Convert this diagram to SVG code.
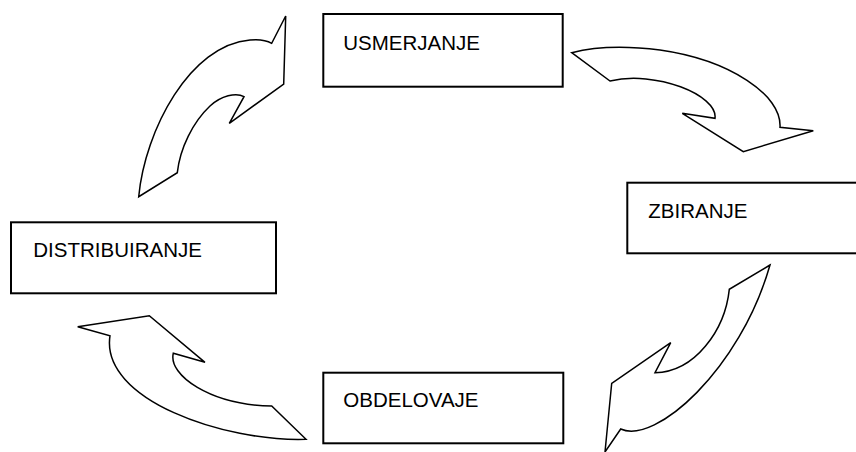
<svg xmlns="http://www.w3.org/2000/svg" width="856" height="452" viewBox="0 0 856 452">
<style>
.box{fill:#fff;stroke:#000;stroke-width:2}
.lbl{font-family:"Liberation Sans",Arial,sans-serif;font-size:20.5px;fill:#000}
.arr{fill:#fff;stroke:#000;stroke-width:1.5;stroke-linejoin:miter}
</style>
<rect width="856" height="452" fill="#fff"/>
<g id="connectors">
<path class="arr" d="M285.7,16 L283.7,84 L229.3,123.3 L244,96.7 C236,92 221,96 210,106 C193,122 180,148 177.3,172.7 L138.7,196.7 C145,130 190,45 250,40 C260,39 266,40 271.7,43.3 Z"/>
<path class="arr" d="M571.7,52.7 L610,81 C655,70 718,95 715,118.3 L682.3,113.3 L743.3,151.7 L813.3,130.7 L780,127.3 C782,95 730,60 660,50 C620,45 590,48 571.7,52.7 Z"/>
<path class="arr" d="M770,265 L729.3,289.3 C725,330 695,372 655,372.7 L670.7,342.7 L611.7,383.3 L605,452 L620.7,429 C655,445 740,370 770,265 Z"/>
<path class="arr" d="M77.7,326.7 L149.3,315.7 L205,362.3 L173.3,353.3 C168,375 210,405 271.7,406 L306,439.3 C225,442 100,400 110,335.7 Z"/>
</g>
<g id="usmerjanje">
<rect class="box" x="323.3" y="14" width="239.4" height="72.7"/>
<text class="lbl" x="343.3" y="50">USMERJANJE</text>
</g>
<g id="zbiranje">
<rect class="box" x="627.3" y="182.7" width="250" height="70.6"/>
<text class="lbl" x="648.3" y="217.7">ZBIRANJE</text>
</g>
<g id="distribuiranje">
<rect class="box" x="11" y="222.3" width="265" height="71"/>
<text class="lbl" x="33.3" y="257.3">DISTRIBUIRANJE</text>
</g>
<g id="obdelovaje">
<rect class="box" x="323.3" y="372.7" width="240" height="70.6"/>
<text class="lbl" x="343.3" y="407.3">OBDELOVAJE</text>
</g>
</svg>
